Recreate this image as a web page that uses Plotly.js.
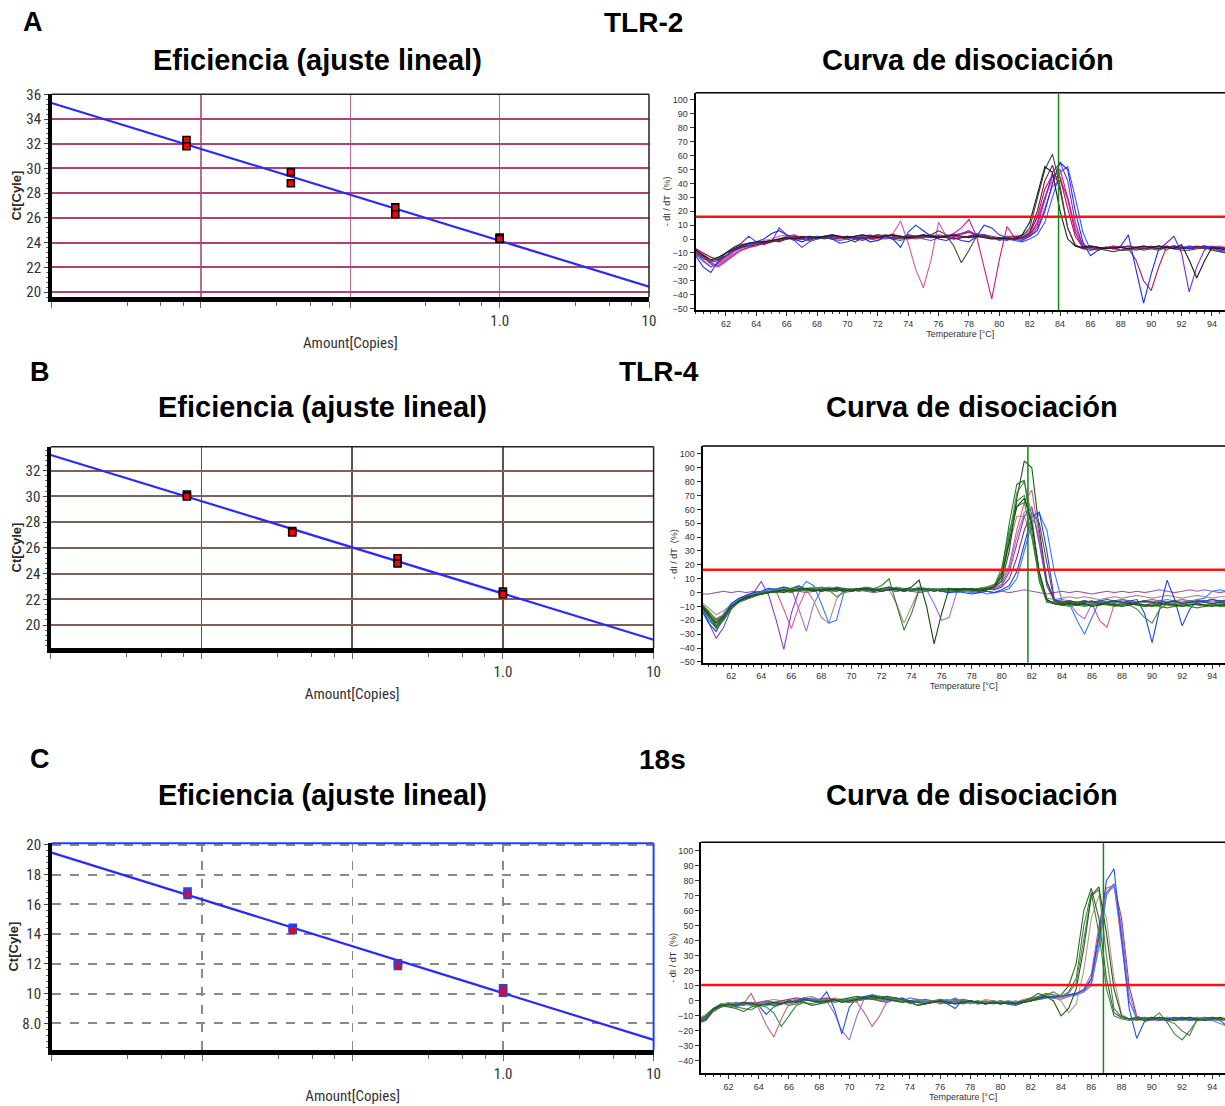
<!DOCTYPE html>
<html><head><meta charset="utf-8">
<script src="https://cdn.plot.ly/plotly-3.0.1.min.js"></script>
<style>html,body{margin:0;padding:0;background:#fff}#chart{width:1225px;height:1106px}</style>
</head><body><div id="chart"></div>
<script>
// ================= DATA =================
// Standard curves: amount (5-fold dilutions) vs Ct
const amountStd = [0.008, 0.008, 0.04, 0.04, 0.2, 0.2, 1, 1];
const ctTLR2 = [32.3, 31.8, 29.7, 28.8, 26.85, 26.3, 24.4, 24.3];
const ctTLR4 = [30.15, 30.0, 27.3, 27.2, 25.2, 24.8, 22.6, 22.4];
const ct18s = [16.86, 16.64, 14.43, 14.28, 12.04, 11.86, 10.35, 10.05];
const fitAmount = [0.001, 10];
const fitTLR2 = [35.3, 20.44];
const fitTLR4 = [33.22, 18.86];
const fit18s = [19.48, 6.88];
const ctTicksA = [20, 22, 24, 26, 28, 30, 32, 34, 36];
const ctTicksB = [20, 22, 24, 26, 28, 30, 32];
const ctTicksC = [8, 10, 12, 14, 16, 18, 20];
const ctTextC = ['8.0', '10', '12', '14', '16', '18', '20'];
const amountTicks = [0.001, 0.01, 0.1, 1, 10];
const amountTickText = ['', '', '', '1.0', '10'];

// Melt curves: temperature grid and -dI/dT (%) values
const temp = [60,60.5,61,61.5,62,62.5,63,63.5,64,64.5,65,65.5,66,66.5,67,67.5,68,68.5,69,69.5,70,70.5,71,71.5,72,72.5,73,73.5,74,74.5,75,75.5,76,76.5,77,77.5,78,78.5,79,79.5,80,80.5,81,81.5,82,82.5,83,83.5,84,84.5,85,85.5,86,86.5,87,87.5,88,88.5,89,89.5,90,90.5,91,91.5,92,92.5,93,93.5,94,94.5,95];
const tempTicks = [62,64,66,68,70,72,74,76,78,80,82,84,86,88,90,92,94];
const dTicks = [-50,-40,-30,-20,-10,0,10,20,30,40,50,60,70,80,90,100];
const dTicksC = [-40,-30,-20,-10,0,10,20,30,40,50,60,70,80,90,100];
const meltThreshold = [16, 16.4, 10.6];
const meltPeakTemp = [83.9, 81.74, 86.8];

// TLR-2 melt curves
const tlr2_c1 = [-8,-12,-15,-13,-10,-7,-5,-3,-2,-2, -1,0,1,0,1,2,1,2,3,2, 1,2,3,2,1,2,3,2,1,2, 3,2,1,2,3,2,1,2,1,0, 1,0,0,3,12,33,52,48,20,0, -5,-6,-5,-6,-7,-6,-6,-7,-6,-5, -6,-5,-6,-7,-4,-15,-28,-16,-6,-7, -8];
const tlr2_c2 = [-10,-14,-16,-14,-10,-6,-4,-3,-3,-2, -1,-2,0,1,0,-1,1,0,2,1, 0,-2,1,2,3,2,1,0,2,1, 2,3,6,3,-5,-17,-8,2,3,1, 0,1,0,2,8,28,50,61,38,8, -4,-7,-8,-7,-8,-9,-8,-8,-7,-8, -7,-8,-6,-7,-8,-8,-7,-6,-8,-9, -10];
const tlr2_c3 = [-7,-10,-13,-15,-12,-8,-6,-5,-4,-3, -2,-1,0,1,2,1,0,1,2,1, 2,1,0,1,2,3,2,1,0,1, 2,1,2,1,0,1,2,3,2,1, 0,1,0,1,5,20,42,53,35,8, -5,-7,-6,-7,-6,-7,-6,-5,-6,-7, -6,-7,-5,-6,-7,-6,-5,-6,-7,-6, -7];
const tlr2_c4 = [-9,-13,-18,-20,-16,-12,-8,-6,-4,-3, -2,0,2,3,1,0,2,1,0,2, 1,0,2,3,1,2,0,1,3,2, 1,2,3,2,4,8,14,2,-20,-43, -15,9,1,1,3,12,30,45,50,30, 5,-6,-5,-6,-7,-5,-6,-7,-8,-7, -6,-5,-8,-5,-6,-7,-6,-5,-6,-7, -6];
const tlr2_c5 = [-10,-15,-20,-18,-14,-10,-7,-5,-3,-1, 0,2,3,2,1,0,1,2,3,2, 1,2,3,1,0,2,4,13,-3,-22, -35,-15,12,2,1,3,5,2,1,0, 0,1,2,3,6,15,30,42,45,28, 5,-5,-6,-7,-6,-7,-5,-6,-7,-6, -7,-6,-5,-6,-7,-5,-6,-7,-6,-5, -6];
const tlr2_c6 = [-12,-20,-24,-16,-10,-8,-5,-3,-2,0, 4,6,3,0,-2,0,1,2,0,-3, -2,0,1,-2,-1,2,0,-6,5,10, 6,2,0,-1,1,-1,-2,2,10,8, 3,1,0,-1,2,6,20,40,55,50, 20,-2,-12,-8,-6,-7,-5,3,-22,-46, -25,-7,-6,-5,-6,-7,-6,-5,-6,-8, -9];
const tlr2_c7 = [-7,-12,-17,-15,-10,-6,-3,2,-2,-4, -2,8,3,-1,-6,-2,0,1,3,1, 2,0,-1,1,3,2,0,1,3,2, 1,3,2,1,2,4,6,3,2,1, 0,-1,1,0,3,10,28,48,55,42, 12,-5,-7,-8,-6,-7,-6,-5,-7,-6, -5,-7,-3,2,-10,-38,-20,-8,-5,-6, -7];
const tlr2_c8 = [-8,-11,-15,-17,-12,-8,-6,-4,-3,-2, -1,0,1,2,1,0,1,2,1,0, 1,2,1,0,1,2,3,2,1,2, 3,2,1,2,3,4,5,3,2,1, 0,2,2,1,4,16,36,46,44,22, 2,-6,-5,-6,-7,-6,-8,-7,-15,-30, -37,-20,-6,-5,-6,-7,-6,-7,-6,-7, -7];
const tlr2_c9 = [-9,-13,-17,-19,-15,-11,-8,-6,-5,-3, -2,-1,0,1,0,1,2,1,0,1, 2,1,0,2,1,0,1,2,1,0, 1,2,1,3,2,1,2,1,3,2, 1,0,1,0,2,8,22,38,42,30, 8,-4,-6,-7,-6,-5,-6,-7,-6,-5, -6,-7,-6,-5,-6,-7,-6,-5,-6,-7, -6];
const tlr2_c10 = [-11,-16,-20,-17,-13,-9,-6,-4,-3,-2, -1,0,1,-1,0,1,2,1,0,-1, 0,1,2,0,-1,1,0,-1,1,2, 0,-1,1,2,0,1,2,4,3,1, -1,0,-1,-2,0,3,12,30,48,52, 30,5,-8,-7,-6,-7,-8,-7,-6,-7, -6,-5,-6,-7,-6,-5,-6,-6,-7,-9, -10];

// TLR-4 melt curves
const tlr4_c1 = [-8,-15,-24,-18,-10,-6,-4,-2,-1,0, 1,0,2,3,2,1,2,3,2,1, 2,3,2,1,3,4,2,1,2,3, 2,1,2,3,1,2,3,2,3,4, 8,30,68,95,90,45,8,-6,-8,-7, -8,-7,-6,-8,-7,-6,-7,-8,-7,-6, -7,-8,-7,-6,-8,-7,-6,-7,-8,-7, -8];
const tlr4_c2 = [-10,-18,-26,-20,-12,-7,-4,-2,0,1, 0,2,3,4,3,2,3,2,1,3, 2,3,4,3,5,10,-8,-27,-15,2, 3,2,1,2,3,2,1,3,2,5, 15,50,78,81,45,8,-7,-8,-7,-8, -7,-8,-9,-8,-7,-8,-9,-8,-9,-10, -9,-8,-9,-10,-9,-8,-9,-10,-9,-8, -9];
const tlr4_c3 = [-9,-16,-22,-17,-10,-6,-3,-2,-1,0, 1,2,1,2,3,2,1,2,3,2, 1,2,3,2,1,2,3,2,4,9, -10,-37,-15,3,2,3,2,1,2,4, 12,38,62,68,50,15,-5,-8,-9,-8, -9,-8,-10,-9,-8,-9,-10,-9,-8,-9, -10,-9,-8,-9,-10,-9,-8,-9,-10,-9, -9];
const tlr4_c4 = [-8,-13,-20,-16,-11,-7,-4,-3,-1,0, 2,1,0,2,3,4,3,2,-3,0, 1,2,3,2,1,2,4,3,2,1, 2,3,2,1,2,3,2,3,4,5, 18,45,62,65,40,10,-6,-7,-8,-9, -8,-9,-8,-7,-8,-9,-8,-9,-12,-18, -22,-12,-8,-9,-8,-7,-8,-9,-8,-9, -8];
const tlr4_c5 = [-12,-22,-28,-18,-8,-4,-2,0,1,3, 2,4,3,5,2,1,3,2,4,3, 2,3,2,1,3,2,1,2,3,2, 1,2,1,0,1,0,-1,0,1,0, 2,5,15,35,55,58,30,-5,-7,-6, -7,-6,-7,-6,-5,-6,-7,-6,-5,-15, -36,-12,9,-5,-24,-12,-6,-6,-5,-6, -6];
const tlr4_c6 = [-10,-20,-25,-15,-8,-5,-3,-1,0,2, 3,4,2,1,8,5,-8,-22,-20,0, 2,3,1,2,3,2,1,3,2,4, 3,1,2,1,0,1,0,1,-1,0, 1,3,10,30,50,57,45,15,-6,-8, -20,-30,-18,-6,-7,-6,-5,-6,-7,-6, -7,-6,-5,-6,-7,-6,-5,-4,1,2, 1];
const tlr4_c7 = [-9,-14,-20,-17,-11,-7,-4,-2,-1,0, 1,-12,-26,-10,2,3,2,1,2,3, 2,1,2,3,2,3,2,1,2,3, 2,1,2,3,2,1,2,3,4,6, 8,20,45,65,74,40,5,-6,-5,-6, -7,-6,-8,-20,-25,-8,-5,-6,-7,-6, -5,-6,-7,-6,-5,-6,-7,-6,-5,-6, -5];
const tlr4_c8 = [-10,-22,-33,-25,-12,-5,-2,0,8,-2, -20,-41,-15,1,3,2,1,3,2,1, 2,3,2,1,2,3,2,1,2,3, 2,3,2,1,2,3,2,1,2,3, 5,15,35,55,62,35,5,-6,-7,-6, -7,-6,-7,-6,-7,-6,-7,-8,-7,-6, -7,-6,-7,-8,-7,-6,-7,-6,-7,-6, -7];
const tlr4_c9 = [-9,-15,-21,-16,-10,-6,-4,-2,0,1, 2,1,3,-12,-28,-8,2,3,2,1, 2,3,2,1,2,3,2,1,2,3, 2,-8,-20,-18,0,2,1,2,3,4, 6,18,40,58,60,38,8,-5,-6,-7, -15,-19,-8,-6,-7,-6,-5,-6,-7,-6, -5,-6,-7,-6,-5,-6,-7,-6,-5,-6, -6];
const tlr4_c10 = [-7,-11,-16,-13,-9,-6,-4,-2,-1,0, 1,2,1,3,2,-6,-18,-22,-5,2, 3,2,1,2,3,2,-8,-22,-10,2, 3,2,1,2,3,2,3,2,4,6, 12,35,55,55,40,12,-4,-5,-4,-3, -4,-3,-4,-5,-4,-3,-4,-3,-2,-3, -4,-3,-2,-3,-4,-3,-2,-3,-4,-3, -3];
const tlr4_c11 = [-1,-1,0,1,0,1,0,1,0,1, 0,1,2,1,0,1,2,1,1,2, 1,2,1,0,1,2,1,2,1,0, 1,2,1,0,1,2,1,0,1,0, 1,0,1,2,1,0,-1,0,1,0, 1,0,-1,0,1,0,1,0,1,0, 1,2,1,0,1,2,1,2,1,0, 1];
const tlr4_c12 = [-9,-14,-19,-16,-11,-7,-5,-3,-1,0, 1,2,1,2,3,2,1,2,3,2, 1,2,3,2,1,2,3,2,1,2, 3,2,1,2,3,2,1,2,3,2, 4,10,25,45,58,50,20,-7,-8,-9, -8,-9,-8,-7,-8,-9,-8,-7,-8,-9, -8,-7,-8,-9,-8,-7,-8,-9,-8,-7, -8];
const tlr4_c13 = [-9,-17,-25,-19,-11,-6,-3,-1,0,1, 2,3,2,1,2,3,4,3,2,1, 2,1,2,3,2,4,3,2,1,2, 3,2,3,2,1,2,3,2,3,5, 14,42,66,70,50,14,-5,-8,-9,-10, -9,-10,-9,-8,-9,-10,-9,-8,-9,-10, -9,-10,-11,-10,-9,-10,-11,-10,-9,-10, -10];
const tlr4_c14 = [-8,-14,-21,-17,-10,-6,-4,-2,-1,0, 1,2,3,2,1,2,3,4,3,2, 3,2,1,2,3,2,1,2,3,2, 1,2,3,2,1,3,2,1,2,4, 10,40,72,80,55,12,-6,-7,-8,-7, -8,-7,-8,-9,-8,-7,-8,-9,-8,-7, -8,-9,-8,-7,-8,-9,-8,-7,-8,-9, -8];

// 18s melt curves
const r18s_c1 = [-14,-12,-6,-3,-2,-3,-1,-2,-3,-2, -1,-2,0,-1,1,0,-1,0,1,-1, 0,1,2,3,2,1,0,-1,0,-1, -2,-1,0,-1,-2,-1,0,-1,-2,-1, -2,-1,-2,-1,0,2,3,0,-10,-5, 8,35,70,76,45,8,-10,-12,-12,-13, -12,-11,-12,-13,-12,-11,-12,-13,-12,-11, -12];
const r18s_c2 = [-13,-10,-5,-2,-3,-4,-5,-6,-3,-4, -8,-17,-10,-3,-1,-2,0,1,-1,0, 1,2,1,2,3,2,0,1,-2,0, -1,0,1,-1,0,-2,-1,0,-1,-2, -1,-2,-1,0,1,3,5,4,3,6, 15,50,72,45,8,-10,-12,-13,-12,-11, -12,-8,-14,-22,-26,-20,-13,-12,-11,-12, -13];
const r18s_c3 = [-14,-11,-7,-4,-3,-2,-3,-1,-2,-3, -2,-1,-3,-2,0,1,-1,0,1,0, -1,0,2,1,0,2,1,0,-1,0, -1,0,-2,-1,0,1,-1,0,-2,-1, 0,-1,-2,-1,1,2,4,6,3,5, 12,40,70,74,30,-5,-11,-12,-13,-12, -11,-12,-13,-15,-20,-23,-12,-11,-12,-13, -12];
const r18s_c4 = [-12,-9,-5,-2,-1,-2,-3,-1,-2,0, 1,0,-1,0,2,3,1,0,2,1, 0,1,3,2,1,0,2,1,0,-1, 0,-1,1,0,-1,-2,0,-1,1,0, -1,0,-1,1,2,3,4,3,0,-8, -2,20,55,70,55,15,-9,-12,-11,-12, -13,-12,-11,-12,-13,-12,-11,-12,-13,-12, -13];
const r18s_c5 = [-15,-13,-7,-4,-3,-4,-2,-1,-3,-9, -4,-2,-1,0,2,1,0,6,-5,-22, -4,2,3,4,3,2,1,2,0,-3, -2,-1,0,-2,-5,1,0,-1,-2,-1, -1,-2,-3,-1,0,1,2,3,3,4, 5,7,15,45,80,88,40,-5,-25,-14, -12,-13,-12,-11,-12,-13,-12,-11,-12,-13, -17];
const r18s_c6 = [-14,-12,-6,-4,-2,-1,-2,-3,-2,-1, -2,-1,0,-1,1,0,-1,0,1,0, 1,0,2,3,1,0,2,1,0,1, 0,-1,1,0,2,-1,0,-2,-1,0, -1,0,-1,0,1,2,3,2,3,4, 4,6,12,35,70,78,45,0,-12,-11, -12,-11,-12,-13,-12,-11,-12,-13,-13,-15, -17];
const r18s_c7 = [-13,-10,-5,-3,-2,-3,-2,5,-5,-16, -24,-12,-2,-1,0,1,0,-1,1,0, 1,-1,-8,-17,-10,0,2,1,0,1, 0,-1,0,1,-1,0,-2,-1,0,-1, 0,-1,-2,-1,0,2,3,2,1,3, 5,8,18,50,75,77,40,0,-11,-12, -12,-13,-12,-11,-12,-13,-12,-11,-12,-13, -12];
const r18s_c8 = [-14,-11,-6,-3,-2,-3,-2,-3,-2,-1, -2,-1,0,1,0,2,1,0,-8,-20, -26,-10,2,4,2,3,1,0,2,1, 0,-1,0,-2,-1,0,-1,-2,0,-1, -2,-1,0,-1,0,1,2,3,2,3, 4,6,10,38,72,76,50,5,-11,-12, -13,-12,-11,-12,-13,-12,-11,-12,-13,-12, -13];
const r18s_c9 = [-13,-11,-6,-4,-3,-2,-1,-2,-1,0, -1,0,1,2,1,0,1,2,1,0, -1,0,1,2,0,-1,1,0,-1,0, 1,0,-1,0,1,0,-1,-2,-1,0, -1,-2,-1,0,1,2,3,2,3,4, 5,7,14,42,72,78,55,10,-10,-12, -11,-12,-13,-12,-11,-12,-13,-12,-11,-12, -13];
const r18s_c10 = [-13,-10,-5,-3,-4,-5,-7,-4,-3,-2, -3,-2,-1,0,-1,-3,-2,-1,0,1, 2,3,2,1,2,3,2,1,-1,-3, -2,-1,0,-1,-2,-1,0,-1,-2,-1, -2,-1,-2,0,2,5,3,2,4,10, 25,60,75,55,15,-8,-11,-12,-11,-12, -11,-12,-13,-12,-11,-12,-13,-12,-11,-12, -12];

// ================= BUILD =================
const W = 1225, H = 1106;
const px = v => v / W;            // pixel -> paper x
const py = v => 1 - v / H;        // pixel -> paper y
const NARROW = "'Liberation Sans Narrow','Arial Narrow','Roboto Condensed','Liberation Sans',sans-serif";
const SANS = "'Liberation Sans',Arial,sans-serif";

const traces = [];
function stdTraces(xa, ya, ct, fit, markerLine) {
  traces.push({x: fitAmount, y: fit, xaxis: xa, yaxis: ya, mode: 'lines', type: 'scatter',
    line: {color: '#2a2aff', width: 2.2}, hoverinfo: 'skip', showlegend: false});
  traces.push({x: amountStd, y: ct, xaxis: xa, yaxis: ya, mode: 'markers', type: 'scatter',
    marker: {symbol: 'square', size: 7, color: '#ff0000', line: {color: markerLine, width: 1.6}}, showlegend: false});
}
stdTraces('x', 'y', ctTLR2, fitTLR2, '#000');
stdTraces('x3', 'y3', ctTLR4, fitTLR4, '#000');
stdTraces('x5', 'y5', ct18s, fit18s, '#2040ff');

function meltTraces(xa, ya, curves) {
  curves.forEach(([vals, col]) => traces.push({x: temp, y: vals, xaxis: xa, yaxis: ya, mode: 'lines', type: 'scatter',
    line: {color: col, width: 1.1}, hoverinfo: 'skip', showlegend: false}));
}
meltTraces('x2', 'y2', [
  [tlr2_c5, '#e0559a'], [tlr2_c9, '#c83070'], [tlr2_c4, '#d01a8a'], [tlr2_c8, '#b0105a'],
  [tlr2_c7, '#7a2ad8'], [tlr2_c10, '#3a50ff'], [tlr2_c6, '#1a2aff'], [tlr2_c3, '#7a1535'],
  [tlr2_c2, '#3c4a3c'], [tlr2_c1, '#1a1a1a']]);
meltTraces('x4', 'y4', [
  [tlr4_c11, '#9a5ab8'], [tlr4_c10, '#b08a78'], [tlr4_c12, '#8a3050'], [tlr4_c7, '#e05a8a'],
  [tlr4_c9, '#a86ad8'], [tlr4_c8, '#8a3ad0'], [tlr4_c6, '#3a7aff'], [tlr4_c5, '#1a40f0'],
  [tlr4_c14, '#6a8a6a'], [tlr4_c4, '#5a8a4a'], [tlr4_c13, '#3a8a3a'], [tlr4_c2, '#2a7a2a'],
  [tlr4_c3, '#0f4a0f'], [tlr4_c1, '#1a5a1a']]);
meltTraces('x6', 'y6', [
  [r18s_c4, '#b89a8a'], [r18s_c9, '#b03070'], [r18s_c7, '#d0607a'], [r18s_c8, '#9a70c8'],
  [r18s_c6, '#4a80ff'], [r18s_c5, '#2050f0'], [r18s_c3, '#6a7a5a'], [r18s_c2, '#3a8a3a'],
  [r18s_c10, '#2a6a2a'], [r18s_c1, '#1a5a1a']]);

const minorAmount = [];
[0.001, 0.01, 0.1, 1].forEach(d => [3.2, 5.4, 7.6].forEach(m => minorAmount.push(d * m)));

function stdX(anchor, l, r, gridcolor, dash) {
  return {anchor, type: 'log', domain: [px(l), px(r)], range: [-3, 1], tickmode: 'array', tickvals: amountTicks, ticktext: amountTickText,
    ticks: 'outside', ticklen: 6, tickwidth: 1, tickcolor: '#666', showgrid: true, gridcolor, gridwidth: 1.5, griddash: dash,
    showline: true, linecolor: '#000', linewidth: 5, zeroline: false,
    tickfont: {family: NARROW, size: 15, color: '#333'},
    title: {text: 'Amount[Copies]', font: {family: NARROW, size: 15, color: '#333'}, standoff: 10},
    minor: {tickmode: 'array', tickvals: minorAmount, ticks: 'outside', ticklen: 4, tickcolor: '#666', showgrid: false},
    fixedrange: true};
}
function stdY(anchor, b, t, range, tickvals, ticktext, gridcolor, dash, titleColor) {
  const o = {anchor, domain: [py(b), py(t)], range, tickmode: 'array', tickvals, ticks: 'outside', ticklen: 4, tickcolor: '#444',
    showgrid: true, gridcolor, gridwidth: 2, griddash: dash, showline: true, linecolor: '#000', linewidth: 3.5, zeroline: false,
    tickfont: {family: NARROW, size: 15, color: '#333'},
    title: {text: 'Ct[Cyle]', font: {family: SANS, size: 13, color: titleColor, weight: 700}, standoff: 2},
    minor: {dtick: 0.4, ticks: 'outside', ticklen: 2, tickcolor: '#666', showgrid: false}, fixedrange: true};
  if (ticktext) o.ticktext = ticktext;
  return o;
}
function meltX(anchor, l, t0, t1) {
  return {anchor, domain: [px(l), 1], range: [t0, t1], tickmode: 'array', tickvals: tempTicks, ticks: 'outside', ticklen: 4, tickcolor: '#333',
    showgrid: false, showline: true, linecolor: '#000', linewidth: 2, zeroline: false,
    tickfont: {family: SANS, size: 9, color: '#333'},
    title: {text: 'Temperature [°C]', font: {family: SANS, size: 9, color: '#333'}, standoff: 2},
    minor: {dtick: 0.5, ticks: 'outside', ticklen: 2, tickcolor: '#333'}, fixedrange: true};
}
function meltY(anchor, b, t, range, tickvals) {
  return {anchor, domain: [py(b), py(t)], range, tickmode: 'array', tickvals, ticks: 'outside', ticklen: 4, tickcolor: '#333',
    showgrid: false, showline: true, linecolor: '#000', linewidth: 2, zeroline: false,
    tickfont: {family: SANS, size: 9, color: '#333'},
    title: {text: '- dI / dT  (%)', font: {family: SANS, size: 9, color: '#333'}, standoff: 0}, fixedrange: true};
}

const layout = {
  width: W, height: H, margin: {l: 0, r: 0, t: 0, b: 0}, paper_bgcolor: '#fff', plot_bgcolor: '#fff', showlegend: false,
  xaxis: stdX('y', 51.6, 649, '#c06898', 'solid'),
  yaxis: stdY('x', 297, 94.3, [19.6, 36], ctTicksA, null, '#b0407a', 'solid', '#3a2a20'),
  xaxis2: meltX('y2', 695.6, 60, 94.86),
  yaxis2: meltY('x2', 310, 92.7, [-51, 105.2], dTicks),
  xaxis3: stdX('y3', 50.8, 653.6, '#6a5048', 'solid'),
  yaxis3: stdY('x3', 648.3, 446.7, [18.2, 33.86], ctTicksB, null, '#806055', 'solid', '#2a2a2a'),
  xaxis4: meltX('y4', 702.6, 60.1, 94.85),
  yaxis4: meltY('x4', 662.5, 446, [-50.4, 105.7], dTicks),
  xaxis5: stdX('y5', 51.6, 653.6, '#8a8a8a', 'dash'),
  yaxis5: stdY('x5', 1050, 843.3, [6.2, 20.11], ctTicksC, ctTextC, '#8a8a8a', 'dash', '#2a2a2a'),
  xaxis6: meltX('y6', 701.2, 60.2, 94.84),
  yaxis6: meltY('x6', 1073.3, 842.3, [-48.2, 105.6], dTicksC),
  shapes: [], annotations: []
};
// plot frames
function frame(xa, ya, color, w) {
  layout.shapes.push({type: 'line', xref: xa + ' domain', yref: ya + ' domain', x0: 0, x1: 1, y0: 1, y1: 1, line: {color, width: w}});
  layout.shapes.push({type: 'line', xref: xa + ' domain', yref: ya + ' domain', x0: 1, x1: 1, y0: 0, y1: 1, line: {color, width: w}});
}
frame('x', 'y', '#222', 1.5);
frame('x3', 'y3', '#222', 1.5);
frame('x5', 'y5', '#2040ff', 2);
[['x2', 'y2'], ['x4', 'y4'], ['x6', 'y6']].forEach(([xa, ya], i) => {
  layout.shapes.push({type: 'line', xref: xa + ' domain', yref: ya + ' domain', x0: 0, x1: 1, y0: 1, y1: 1, line: {color: '#000', width: 1.5}});
  layout.shapes.push({type: 'line', xref: xa + ' domain', yref: ya, x0: 0, x1: 1, y0: meltThreshold[i], y1: meltThreshold[i], line: {color: '#ff1010', width: 2.5}});
  layout.shapes.push({type: 'line', xref: xa, yref: ya + ' domain', x0: meltPeakTemp[i], x1: meltPeakTemp[i], y0: 0, y1: 1, line: {color: '#108a10', width: 1.5}});
});
// titles
function label(text, x, y, size) {
  layout.annotations.push({text, xref: 'paper', yref: 'paper', x: px(x), y: py(y), xanchor: 'center', yanchor: 'middle',
    showarrow: false, font: {family: SANS, size, color: '#000', weight: 700}});
}
label('A', 33, 22, 27); label('TLR-2', 643, 22, 28);
label('Eficiencia (ajuste lineal)', 317, 60, 29); label('Curva de disociación', 968, 60, 29);
label('B', 40, 372, 27); label('TLR-4', 659, 372, 28);
label('Eficiencia (ajuste lineal)', 322, 407, 29); label('Curva de disociación', 972, 407, 29);
label('C', 40, 759, 27); label('18s', 662, 759, 28);
label('Eficiencia (ajuste lineal)', 322, 795, 29); label('Curva de disociación', 972, 795, 29);

Plotly.newPlot('chart', traces, layout, {staticPlot: true, displayModeBar: false});
</script></body></html>
